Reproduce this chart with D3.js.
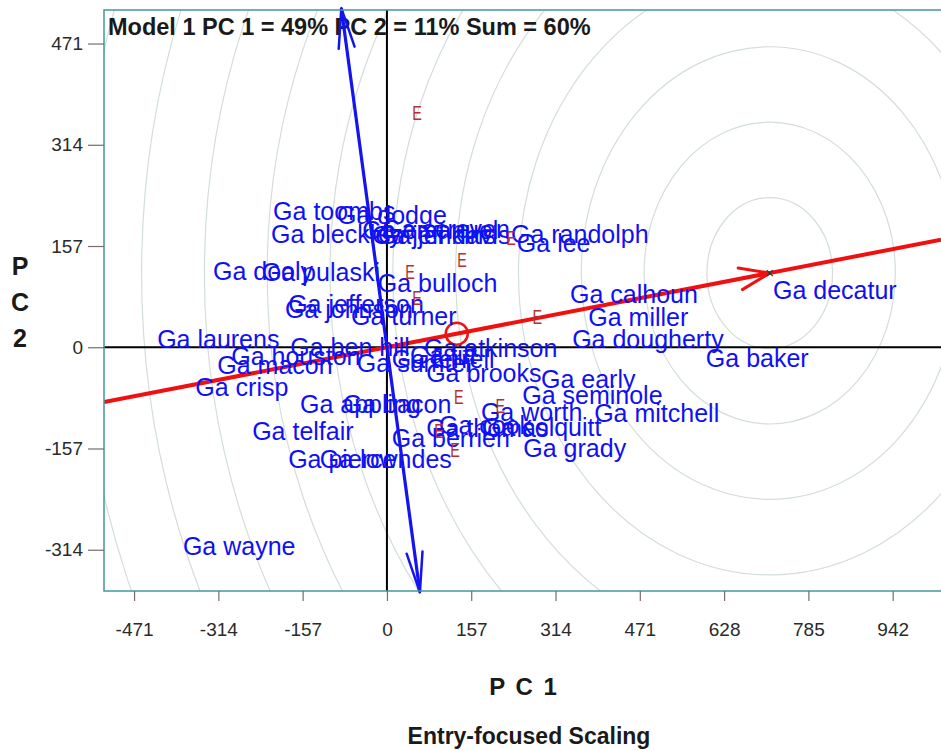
<!DOCTYPE html>
<html>
<head>
<meta charset="utf-8">
<script src="https://cdn.jsdelivr.net/npm/d3@7/dist/d3.min.js"></script>
<style>
  html, body { margin: 0; padding: 0; background: #fff; }
  svg { display: block; font-family: "Liberation Sans", Arial, sans-serif; }
</style>
</head>
<body>
<svg id="chart" width="941" height="750"></svg>
<script>
// GGE biplot: genotype (county) scores, environment scores, average-environment axis
const genotypes = [
  "Ga toombs", "Ga dodge", "Ga bleckley", "Ga emanuel", "Ga jenkins", "Ga screven",
  "Ga jeff davis", "Ga randolph", "Ga lee", "Ga dooly", "Ga pulaski", "Ga bulloch",
  "Ga jefferson", "Ga johnson", "Ga turner", "Ga laurens", "Ga houston", "Ga macon",
  "Ga ben hill", "Ga crisp", "Ga atkinson", "Ga sumter", "Ga terrell", "Ga tift",
  "Ga brooks", "Ga early", "Ga seminole", "Ga worth", "Ga mitchell", "Ga colquitt",
  "Ga thomas", "Ga cook", "Ga berrien", "Ga grady", "Ga appling", "Ga bacon",
  "Ga telfair", "Ga pierce", "Ga lowndes", "Ga wayne", "Ga calhoun", "Ga miller",
  "Ga dougherty", "Ga baker", "Ga decatur"
];
const genoPC1 = [
  -212, -93, -216, -46, -17, -9,
  -28, 231, 242, -324, -233, -17,
  -184, -190, -67, -428, -290, -316,
  -180, -357, 69, -56, 9, 43,
  73, 287, 252, 175, 386, 177,
  73, 97, 9, 254, -162, -82,
  -251, -184, -125, -380, 341, 375,
  345, 594, 719
];
const genoPC2 = [
  211, 204, 175, 181, 173, 183,
  173, 175, 161, 118, 116, 100,
  66, 59, 48, 13, -14, -28,
  0, -62, -2, -25, -19, -13,
  -41, -50, -75, -101, -103, -124,
  -126, -121, -141, -157, -89, -89,
  -131, -174, -174, -309, 82, 46,
  12, -17, 89
];

const envLabels = ["E", "E", "E", "E", "E", "E", "E", "E", "E", "E"];
const envPC1 = [56, 43, 140, 56, 231, 280, 134, 211, 97, 127];
const envPC2 = [363, 117, 135, 76, 170, 47, -77, -91, -130, -159];

const avgEnv = [130, 21];          // average environment (small circle)
const idealPoint = [713, 115];     // arrow tip on the average-environment axis
const ordinateEnds = [526, -380];  // PC2 of the two ends of the perpendicular axis
const ringStep = 117;
const ringCount = 12;

const xTicks = [-471, -314, -157, 0, 157, 314, 471, 628, 785, 942];
const yTicks = [-314, -157, 0, 157, 314, 471];

const titleText = "Model 1 PC 1 = 49% PC 2 = 11% Sum = 60%";
const xTitle = "P C 1";
const yTitle = ["P", "C", "2"];
const subTitle = "Entry-focused Scaling";

const svg = d3.select("#chart");
const L = 104, T = 10, R = 941, B = 591;

const x = d3.scaleLinear().domain([-527, 1032]).range([L, R]);
const y = d3.scaleLinear().domain([-378, 523]).range([B, T]);

svg.append("defs").append("clipPath").attr("id", "plotclip")
  .append("rect").attr("x", L).attr("y", T).attr("width", R - L + 2).attr("height", B - T);

const plot = svg.append("g").attr("clip-path", "url(#plotclip)");

// concentric rings around the ideal point
const ringRadii = d3.range(1, ringCount + 1).map(k => k * ringStep);
plot.selectAll("ellipse.ring").data(ringRadii).join("ellipse")
  .attr("class", "ring")
  .attr("cx", x(idealPoint[0]))
  .attr("cy", y(idealPoint[1]))
  .attr("rx", r => x(r) - x(0))
  .attr("ry", r => y(0) - y(r))
  .attr("fill", "none")
  .attr("stroke", "#d3dedb")
  .attr("stroke-width", 1.2);

// title (drawn under the axis lines)
svg.append("text")
  .attr("x", 108).attr("y", 35)
  .attr("font-size", 23.5).attr("font-weight", "bold").attr("fill", "#1a1a1a")
  .text(titleText);

// zero lines
plot.append("line")
  .attr("x1", L).attr("x2", R).attr("y1", y(0)).attr("y2", y(0))
  .attr("stroke", "#000").attr("stroke-width", 2);
plot.append("line")
  .attr("x1", x(0)).attr("x2", x(0)).attr("y1", T).attr("y2", B)
  .attr("stroke", "#000").attr("stroke-width", 2);

// average-environment axis
const slope = avgEnv[1] / avgEnv[0];
const xd = x.domain();
plot.append("line")
  .attr("x1", x(xd[0])).attr("y1", y(xd[0] * slope))
  .attr("x2", x(xd[1])).attr("y2", y(xd[1] * slope))
  .attr("stroke", "#f01010").attr("stroke-width", 4);

function arrowHead(g, tip, from, len, half, color, width) {
  const dx = tip[0] - from[0], dy = tip[1] - from[1];
  const n = Math.hypot(dx, dy);
  const ux = dx / n, uy = dy / n;
  const bx = tip[0] - ux * len, by = tip[1] - uy * len;
  const px = -uy * half, py = ux * half;
  g.append("path")
    .attr("d", `M${bx + px},${by + py}L${tip[0]},${tip[1]}L${bx - px},${by - py}`)
    .attr("fill", "none").attr("stroke", color).attr("stroke-width", width)
    .attr("stroke-linecap", "round").attr("stroke-linejoin", "round");
}

const tipPx = [x(idealPoint[0]), y(idealPoint[1])];
arrowHead(plot, tipPx, [x(0), y(0)], 30, 11, "#f01010", 3);

// small marker at the ideal point
plot.append("path")
  .attr("d", `M${tipPx[0] - 3},${tipPx[1] - 3}L${tipPx[0] + 3},${tipPx[1] + 3}M${tipPx[0] - 3},${tipPx[1] + 3}L${tipPx[0] + 3},${tipPx[1] - 3}`)
  .attr("stroke", "#333").attr("stroke-width", 1.2);

// average environment marker
plot.append("circle")
  .attr("cx", x(avgEnv[0])).attr("cy", y(avgEnv[1])).attr("r", 11)
  .attr("fill", "none").attr("stroke", "#f01010").attr("stroke-width", 2.5);

// perpendicular (stability) axis with arrowheads at both ends
const topEnd = [x(-ordinateEnds[0] * slope), y(ordinateEnds[0])];
const botEnd = [x(-ordinateEnds[1] * slope), y(ordinateEnds[1])];
svg.append("line")
  .attr("x1", topEnd[0]).attr("y1", topEnd[1])
  .attr("x2", botEnd[0]).attr("y2", botEnd[1])
  .attr("stroke", "#1414f0").attr("stroke-width", 3.2);
arrowHead(svg, topEnd, botEnd, 40, 8, "#1414f0", 2.5);
arrowHead(svg, botEnd, topEnd, 40, 8, "#1414f0", 2.5);

// genotype labels
const geno = genotypes.map((g, i) => ({ name: g, pc1: genoPC1[i], pc2: genoPC2[i] }));
plot.selectAll("text.geno").data(geno).join("text")
  .attr("class", "geno")
  .attr("x", d => x(d.pc1))
  .attr("y", d => y(d.pc2))
  .attr("dy", "0.35em")
  .attr("font-size", 25)
  .attr("fill", "#1010f5")
  .text(d => d.name);

// environment markers (tall, narrow "E")
const env = envLabels.map((e, i) => ({ name: e, pc1: envPC1[i], pc2: envPC2[i] }));
plot.selectAll("text.env").data(env).join("text")
  .attr("class", "env")
  .attr("transform", d => `translate(${x(d.pc1)},${y(d.pc2)}) scale(0.72,1)`)
  .attr("dy", "0.36em")
  .attr("text-anchor", "middle")
  .attr("font-size", 20)
  .attr("fill", "#b8302c")
  .text(d => d.name);

// frame
svg.append("rect")
  .attr("x", L).attr("y", T).attr("width", R - L + 4).attr("height", B - T)
  .attr("fill", "none").attr("stroke", "#3f9a98").attr("stroke-width", 1.5);

// axes
const plainInt = d => String(d);
const yAxis = svg.append("g").attr("transform", `translate(${L},0)`)
  .call(d3.axisLeft(y).tickValues(yTicks).tickSize(16).tickPadding(5).tickFormat(plainInt));
const xAxis = svg.append("g").attr("transform", `translate(0,${B})`)
  .call(d3.axisBottom(x).tickValues(xTicks).tickSize(10).tickPadding(22).tickFormat(plainInt));
[xAxis, yAxis].forEach(a => {
  a.select(".domain").remove();
  a.selectAll(".tick line").attr("stroke", "#7a6a6a").attr("stroke-width", 1.2);
  a.selectAll(".tick text")
    .attr("fill", "#2a2a2a")
    .attr("font-size", 19)
    .attr("font-family", "'Liberation Sans', Arial, sans-serif");
});

// axis titles
svg.append("text")
  .attr("x", 524).attr("y", 695)
  .attr("text-anchor", "middle")
  .attr("letter-spacing", 2)
  .attr("font-size", 24).attr("font-weight", "bold").attr("fill", "#1a1a1a")
  .text(xTitle);
svg.selectAll("text.ytitle").data(yTitle).join("text")
  .attr("class", "ytitle")
  .attr("x", 20)
  .attr("y", (d, i) => 275 + i * 36)
  .attr("text-anchor", "middle")
  .attr("font-size", 25).attr("font-weight", "bold").attr("fill", "#1a1a1a")
  .text(d => d);
svg.append("text")
  .attr("x", 529).attr("y", 744)
  .attr("text-anchor", "middle")
  .attr("font-size", 23).attr("font-weight", "bold").attr("fill", "#1a1a1a")
  .text(subTitle);
</script>
</body>
</html>
